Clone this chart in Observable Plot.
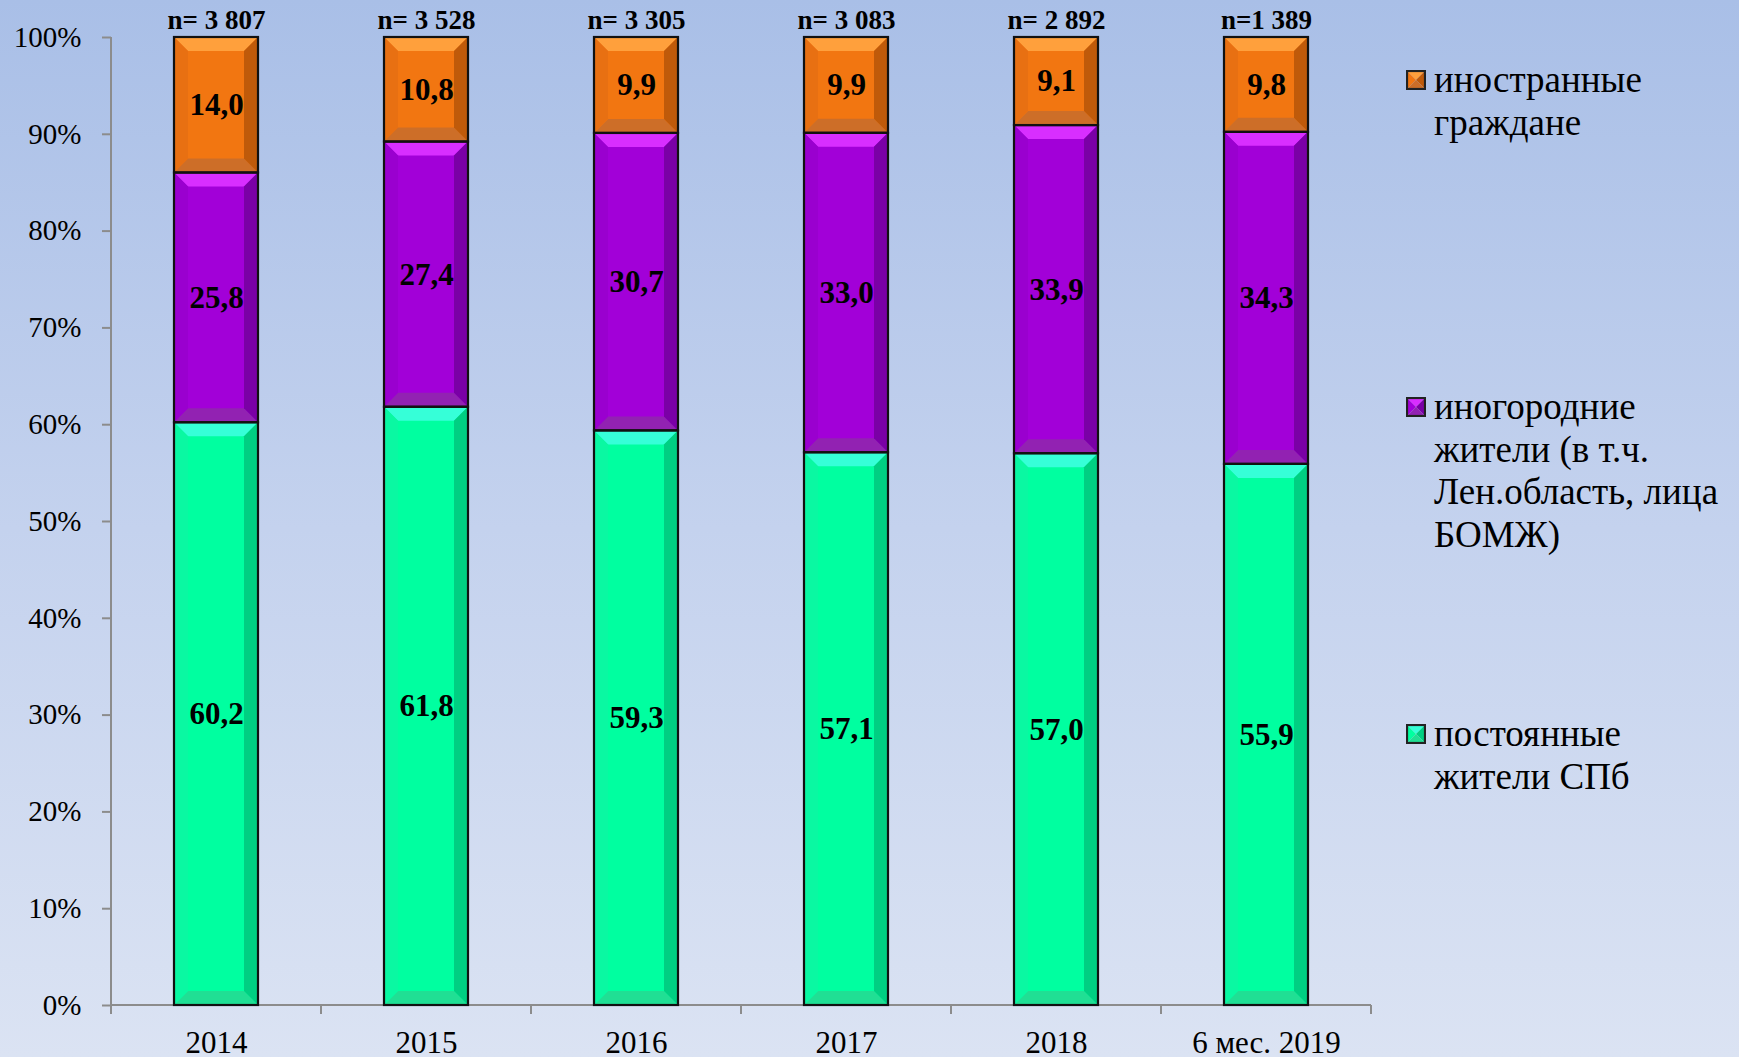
<!DOCTYPE html>
<html><head><meta charset="utf-8">
<script src="https://cdn.jsdelivr.net/npm/d3@7"></script>
<script src="https://cdn.jsdelivr.net/npm/@observablehq/plot@0.6"></script>
<style>
html,body{margin:0;padding:0;}
body{width:1739px;height:1057px;background:linear-gradient(180deg,#a9bfe7 0%,#c4d2ee 50%,#dbe3f3 100%);font-family:"Liberation Serif","Times New Roman",serif;position:relative;overflow:hidden;}
#chart{position:absolute;left:0;top:0;}
#legend{position:absolute;left:1406px;top:0;width:333px;height:1057px;}
.item{position:absolute;left:0;font-size:37px;line-height:42.5px;color:#000;}
.item svg{position:absolute;left:0;}
.item div.txt{position:absolute;left:28px;white-space:nowrap;}
</style></head><body>
<div id="chart"></div><div id="legend"></div>
<script>
// ---- data ----
const categories = ["2014", "2015", "2016", "2017", "2018", "6 мес. 2019"];
const sampleSizes = ["n= 3 807", "n= 3 528", "n= 3 305", "n= 3 083", "n= 2 892", "n=1 389"];
const seriesNames = ["постоянные жители СПб", "иногородние жители (в т.ч. Лен.область, лица БОМЖ)", "иностранные граждане"];
const residentsSPb = [60.2, 61.8, 59.3, 57.1, 57.0, 55.9];
const nonResidents = [25.8, 27.4, 30.7, 33.0, 33.9, 34.3];
const foreigners = [14.0, 10.8, 9.9, 9.9, 9.1, 9.8];
const yTicks = [0, 0.1, 0.2, 0.3, 0.4, 0.5, 0.6, 0.7, 0.8, 0.9, 1.0];
const legendLines = [
  ["иностранные", "граждане"],
  ["иногородние", "жители (в т.ч.", "Лен.область, лица", "БОМЖ)"],
  ["постоянные", "жители СПб"]
];

// ---- styles ----
const palettes = [
  {face: "#00ffa0", top: "#36ffd8", left: "#0af8a2", right: "#00cf82", bottom: "#20df94"},
  {face: "#a200d8", top: "#d82eff", left: "#9a00cf", right: "#7a00a6", bottom: "#9222b2"},
  {face: "#f27611", top: "#ffa03c", left: "#e87012", right: "#bf5a0a", bottom: "#cd6e28"}
];
const seriesValues = [residentsSPb, nonResidents, foreigners];
const data = categories.flatMap((c, i) => seriesNames.map((s, k) => ({category: c, series: s, sIdx: k, value: seriesValues[k][i]})));
const fmt = v => v.toFixed(1).replace(".", ",");
const NS = "http://www.w3.org/2000/svg";

function bevel(index, scales, values, dimensions, context, next) {
  const g = next(index, scales, values, dimensions, context);
  const rects = Array.from(g.querySelectorAll("rect"));
  rects.forEach((r, k) => {
    const d = data[index[k]];
    const pal = palettes[d.sIdx];
    const x = +r.getAttribute("x"), y = +r.getAttribute("y");
    const w = +r.getAttribute("width"), h = +r.getAttribute("height");
    const b = Math.min(14, h / 3, w / 3);
    const polys = [
      [pal.top, [[x, y], [x + w, y], [x + w - b, y + b], [x + b, y + b]]],
      [pal.bottom, [[x, y + h], [x + w, y + h], [x + w - b, y + h - b], [x + b, y + h - b]]],
      [pal.left, [[x, y], [x + b, y + b], [x + b, y + h - b], [x, y + h]]],
      [pal.right, [[x + w, y], [x + w - b, y + b], [x + w - b, y + h - b], [x + w, y + h]]]
    ];
    let after = r.nextSibling;
    for (const [col, pts] of polys) {
      const p = document.createElementNS(NS, "polygon");
      p.setAttribute("points", pts.map(q => q.join(",")).join(" "));
      p.setAttribute("fill", col);
      p.setAttribute("stroke", "none");
      g.insertBefore(p, after);
    }
  });
  return g;
}

function axisLines(index, scales, values, dimensions) {
  const {marginLeft, marginRight, width} = dimensions;
  const x = scales.x, y = scales.y;
  const step = x.bandwidth ? x.bandwidth() : (width - marginLeft - marginRight) / categories.length;
  const g = document.createElementNS(NS, "g");
  g.setAttribute("stroke", "#8c8c8c");
  g.setAttribute("stroke-width", 2);
  const y0 = y(0), y1 = y(1);
  const vx = x(categories[0]);
  const line = (x1, yA, x2, yB) => {
    const l = document.createElementNS(NS, "line");
    l.setAttribute("x1", x1); l.setAttribute("y1", yA);
    l.setAttribute("x2", x2); l.setAttribute("y2", yB);
    g.appendChild(l);
  };
  line(vx, y0, vx, y1);
  categories.forEach(c => line(x(c), y0, x(c), y0 + 9));
  const last = x(categories[categories.length - 1]) + step;
  line(last, y0, last, y0 + 9);
  line(vx, y0, last, y0);
  return g;
}

const stackOpts = {offset: "normalize", x: "category", y: "value", z: "series"};
const plot = Plot.plot({
  width: 1739, height: 1057,
  marginLeft: 111, marginRight: 368, marginTop: 37, marginBottom: 52,
  style: {background: "transparent", fontFamily: "Liberation Serif, Times New Roman, serif", color: "black", overflow: "visible"},
  x: {domain: categories, padding: 0, label: null},
  y: {domain: [0, 1], label: null},
  color: {domain: seriesNames, range: palettes.map(p => p.face)},
  marks: [
    Plot.barY(data, Plot.stackY({...stackOpts, fill: "series", insetLeft: 63, insetRight: 63, render: bevel})),
    axisLines,
    Plot.barY(data, Plot.stackY({...stackOpts, fill: "none", stroke: "#111", strokeWidth: 2.2, insetLeft: 63, insetRight: 63})),
    Plot.axisY({ticks: yTicks, tickFormat: d3.format(".0%"), tickSize: 9, tickPadding: 21, fontSize: 29, stroke: "#8c8c8c", strokeWidth: 2, fill: "black"}),
    Plot.axisX({tickSize: 0, tickPadding: 25, fontSize: 31, fill: "black"}),
    Plot.text(data, Plot.stackY({...stackOpts, text: d => fmt(d.value), fontSize: 31, fontWeight: "bold", fill: "black"})),
    Plot.text(categories, {x: d => d, y: () => 1, lineAnchor: "middle", text: (d, i) => sampleSizes[i], dy: -17, fontSize: 27, fontWeight: "bold", fill: "black"})
  ]
});
document.getElementById("chart").appendChild(plot);

// ---- legend ----
const legend = document.getElementById("legend");
const legendTops = [59, 386, 713];
const legendSeries = [2, 1, 0];
legendSeries.forEach((k, j) => {
  const pal = palettes[k];
  const item = document.createElement("div");
  item.className = "item";
  item.style.top = legendTops[j] + "px";
  const s = 20, c = s / 2;
  item.innerHTML = `<svg width="${s}" height="${s}" style="top:${21 - c}px" viewBox="0 0 ${s} ${s}">
    <polygon points="0,0 ${s},0 ${c},${c}" fill="${pal.top}"/>
    <polygon points="0,0 ${c},${c} 0,${s}" fill="${pal.face}"/>
    <polygon points="${s},0 ${c},${c} ${s},${s}" fill="${pal.right}"/>
    <polygon points="0,${s} ${c},${c} ${s},${s}" fill="${pal.bottom}"/>
    <rect x="1" y="1" width="${s - 2}" height="${s - 2}" fill="none" stroke="#222" stroke-width="2.2"/>
  </svg><div class="txt">${legendLines[j].join("<br>")}</div>`;
  legend.appendChild(item);
});
</script>
</body></html>
